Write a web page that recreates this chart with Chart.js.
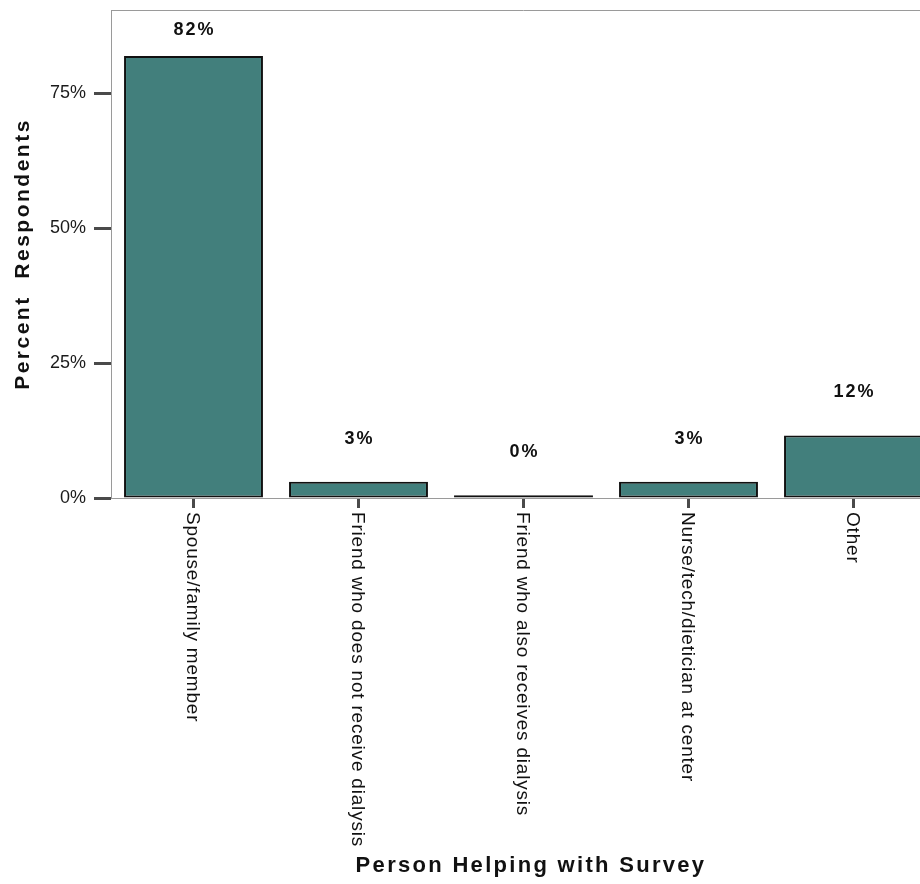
<!DOCTYPE html>
<html><head><meta charset="utf-8">
<script src="https://cdn.jsdelivr.net/npm/chart.js@4"></script>
<style>
html,body{margin:0;padding:0;overflow:hidden;background:#fff;width:920px;height:884px}
#wrap{width:940px;height:884px}
</style></head>
<body><div id="wrap"><canvas id="c" width="940" height="884"></canvas></div>
<script>
const categories = [
  'Spouse/family member',
  'Friend who does not receive dialysis',
  'Friend who also receives dialysis',
  'Nurse/tech/dietician at center',
  'Other'
];
const percentValues = [81.9, 3.0, 0.5, 3.0, 11.6];
const valueLabels = ['82%', '3%', '0%', '3%', '12%'];
const yTickValues = [0, 25, 50, 75];
const yAxisMax = 90.4;
const xAxisTitle = 'Person Helping with Survey';
const yAxisTitle = 'Percent  Respondents';

const FONT = "'Liberation Sans', Arial, sans-serif";

const annotate = {
  id: 'annotate',
  afterDraw(chart) {
    const ctx = chart.ctx;
    const area = chart.chartArea;
    ctx.save();
    // top frame line
    ctx.strokeStyle = '#9a9a9a';
    ctx.lineWidth = 1;
    ctx.beginPath();
    ctx.moveTo(area.left, area.top + 0.5);
    ctx.lineTo(area.right, area.top + 0.5);
    ctx.stroke();

    // data labels
    const meta = chart.getDatasetMeta(0);
    ctx.fillStyle = '#111';
    ctx.font = 'bold 18px ' + FONT;
    ctx.letterSpacing = '2px';
    ctx.textAlign = 'center';
    ctx.textBaseline = 'middle';
    meta.data.forEach((el, i) => {
      const y = Math.max(el.y - 43, area.top + 20);
      ctx.fillText(valueLabels[i], el.x + 1, y);
    });

    // x category labels rotated clockwise
    const xs = chart.scales.x;
    ctx.font = '19px ' + FONT;
    ctx.letterSpacing = '0.8px';
    ctx.textAlign = 'left';
    ctx.fillStyle = '#111';
    categories.forEach((lab, i) => {
      const px = xs.getPixelForTick(i);
      ctx.save();
      ctx.translate(px - 1, area.bottom + 14);
      ctx.rotate(Math.PI / 2);
      ctx.fillText(lab, 0, 0);
      ctx.restore();
    });

    // axis titles
    ctx.fillStyle = '#111';
    ctx.font = 'bold 22px ' + FONT;
    ctx.letterSpacing = '2.3px';
    ctx.textAlign = 'center';
    ctx.fillText(xAxisTitle, 531, 866);

    ctx.font = 'bold 21px ' + FONT;
    ctx.letterSpacing = '2.5px';
    ctx.save();
    ctx.translate(23, (area.top + area.bottom) / 2);
    ctx.rotate(-Math.PI / 2);
    ctx.fillText(yAxisTitle, 0, 0);
    ctx.restore();
    ctx.restore();
  }
};

new Chart(document.getElementById('c'), {
  type: 'bar',
  data: {
    labels: categories,
    datasets: [{
      data: percentValues,
      backgroundColor: '#427f7c',
      borderColor: '#111111',
      borderWidth: 2,
      borderSkipped: false,
      categoryPercentage: 1,
      barPercentage: 0.842
    }]
  },
  options: {
    responsive: false,
    animation: false,
    layout: { padding: { top: 10, right: 4, left: 0, bottom: 0 } },
    plugins: { legend: { display: false }, tooltip: { enabled: false } },
    scales: {
      x: {
        grid: { display: true, drawOnChartArea: false, drawTicks: true, tickLength: 10, tickWidth: 3, tickColor: '#4a4a4a', offset: false },
        border: { display: true, color: '#9a9a9a', width: 1 },
        ticks: { display: false },
        afterFit: s => { s.height = 386; s.paddingLeft = 0; s.paddingRight = 0; }
      },
      y: {
        min: 0,
        max: yAxisMax,
        grid: { drawOnChartArea: false, drawTicks: true, tickLength: 17, tickWidth: 3, tickColor: '#4a4a4a' },
        border: { display: true, color: '#9a9a9a', width: 1 },
        ticks: {
          font: { family: FONT, size: 18 },
          color: '#1a1a1a',
          padding: 8,
          callback: v => v + '%'
        },
        afterBuildTicks: s => { s.ticks = yTickValues.map(v => ({ value: v })); },
        afterFit: s => { s.width = 111; s.paddingTop = 0; s.paddingBottom = 0; }
      }
    }
  },
  plugins: [annotate]
});
</script>
</body></html>
